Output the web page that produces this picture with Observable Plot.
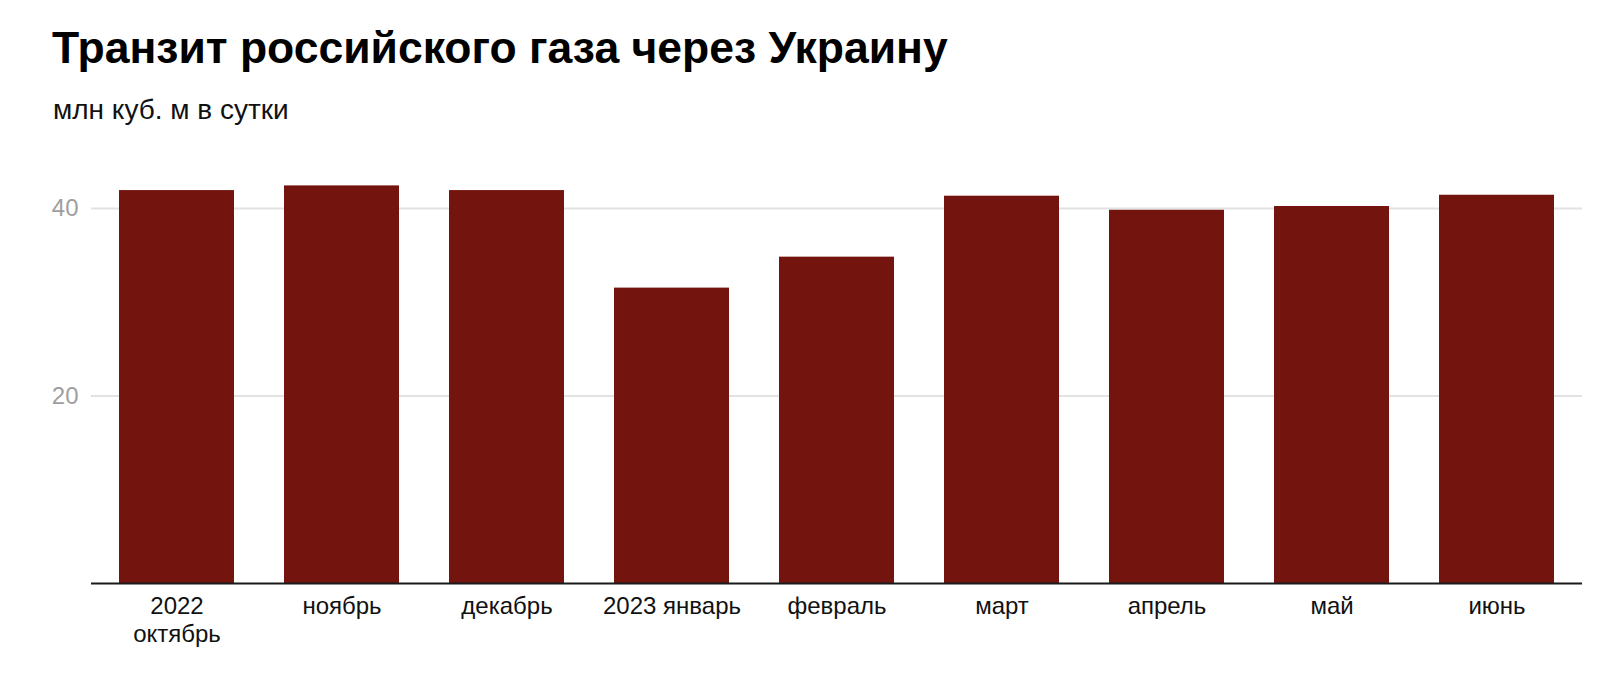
<!DOCTYPE html>
<html>
<head>
<meta charset="utf-8">
<script src="https://cdn.jsdelivr.net/npm/d3@7"></script>
<script src="https://cdn.jsdelivr.net/npm/@observablehq/plot@0.6"></script>
<style>
  html, body { margin: 0; padding: 0; background: #fff; }
  body { width: 1620px; height: 680px; position: relative; overflow: hidden; font-family: "Liberation Sans", Arial, Helvetica, sans-serif; }
  #title { position: absolute; left: 52px; top: 26px; font-size: 44.5px; font-weight: bold; line-height: 1; color: #000; white-space: nowrap; }
  #subtitle { position: absolute; left: 53px; top: 96px; font-size: 28px; line-height: 1; color: #111; white-space: nowrap; }
  #chart { position: absolute; left: 0; top: 140px; }
</style>
</head>
<body>
<div id="title">Транзит российского газа через Украину</div>
<div id="subtitle">млн куб. м в сутки</div>
<div id="chart"></div>
<script>
const months = ["2022\nоктябрь", "ноябрь", "декабрь", "2023 январь", "февраль", "март", "апрель", "май", "июнь"];
const values = [41.9, 42.4, 41.9, 31.5, 34.8, 41.3, 39.8, 40.2, 41.4];
const yTicks = [20, 40];

const data = months.map((m, i) => ({month: m, value: values[i]}));

const chart = Plot.plot({
  width: 1620,
  height: 520,
  marginLeft: 91,
  marginRight: 38,
  marginTop: 21,
  marginBottom: 77,
  style: {fontFamily: "'Liberation Sans', Arial, Helvetica, sans-serif", background: "#fff"},
  x: {domain: months, paddingInner: 0.3, paddingOuter: 0.15, label: null},
  y: {domain: [0, 45], label: null},
  marks: [
    Plot.gridY(yTicks, {stroke: "#e2e2e2", strokeOpacity: 1, strokeWidth: 2}),
    Plot.barY(data, {x: "month", y: "value", fill: "#73150e"}),
    Plot.ruleY([0], {stroke: "#1a1a1a", strokeWidth: 2}),
    Plot.axisY(yTicks, {tickSize: 0, tickPadding: 13, fontSize: 24, fill: "#9e9e9e", label: null}),
    Plot.axisX({tickSize: 0, tickPadding: 10, fontSize: 24, fill: "#111", lineHeight: 1.18, label: null})
  ]
});
document.getElementById("chart").appendChild(chart);
</script>
</body>
</html>
